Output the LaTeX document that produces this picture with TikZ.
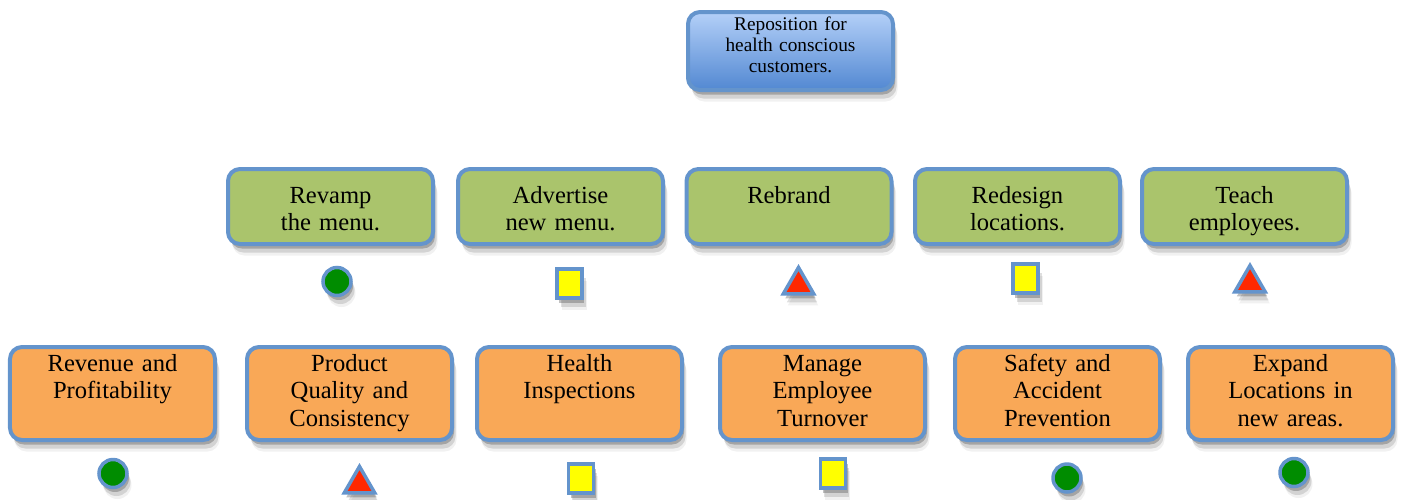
\documentclass[tikz,border=0pt]{standalone}
\usepackage{fontspec}
\setmainfont{Liberation Serif}
\usepackage{xcolor}
\definecolor{edgeblue}{RGB}{100,148,204}
\definecolor{topblue}{RGB}{180,208,248}
\definecolor{lowblue}{RGB}{82,136,210}
\definecolor{leafgreen}{RGB}{170,196,108}
\definecolor{boxorange}{RGB}{249,168,87}
\definecolor{dotgreen}{RGB}{0,140,0}
\definecolor{markyellow}{RGB}{255,255,0}
\definecolor{markred}{RGB}{255,40,0}
\usetikzlibrary{shapes.geometric, shadows}

\begin{document}
\begin{tikzpicture}[
	soft/.style={drop shadow={shadow xshift=0.04cm, shadow yshift=-0.09cm, opacity=0.35, fill=black!70},
	             drop shadow={shadow xshift=0.07cm, shadow yshift=-0.17cm, opacity=0.18, fill=black!70},
	             drop shadow={shadow xshift=0.09cm, shadow yshift=-0.23cm, opacity=0.08, fill=black!70}},
	goal/.style={rectangle, draw=edgeblue, line width=0.08cm, rounded corners=0.24cm, soft,
	             top color=topblue, bottom color=lowblue, align=center, text width=3.9cm,
	             inner xsep=0.1cm, inner ysep=0.1cm, text height=0.26cm, text depth=1.1cm,
	             font=\fontsize{11}{12.2}\selectfont},
	act/.style={rectangle, draw=edgeblue, line width=0.08cm, rounded corners=0.24cm, soft,
	            fill=leafgreen, align=center, text width=3.9cm,
	            inner xsep=0.1cm, inner ysep=0.1cm, text height=0.58cm, text depth=0.72cm,
	            font=\fontsize{14}{15.9}\selectfont},
	area/.style={rectangle, draw=edgeblue, line width=0.08cm, rounded corners=0.24cm, soft,
	             fill=boxorange, align=center, text width=3.9cm,
	             inner xsep=0.1cm, inner ysep=0.1cm, text height=0.38cm, text depth=1.28cm,
	             font=\fontsize{14}{15.9}\selectfont},
	dot/.style={circle, draw=edgeblue, line width=0.07cm, fill=dotgreen, minimum size=0.56cm, inner sep=0pt, soft},
	sq/.style={rectangle, draw=edgeblue, line width=0.07cm, fill=markyellow, minimum width=0.5cm,
	           minimum height=0.58cm, inner sep=0pt, soft},
	tri/.style={regular polygon, regular polygon sides=3, draw=edgeblue, line width=0.07cm, fill=markred,
	            minimum size=0.7cm, inner sep=0pt, soft}
	]
\useasboundingbox (0,0) rectangle (28.02,-9.98);

\node[goal] (top) at (15.81,-1.02) {Reposition for\\ health conscious\\ customers.};

\node[act] (a1) at (6.61,-4.13)  {Revamp\\ the menu.};
\node[act] (a2) at (11.21,-4.13) {Advertise\\ new menu.};
\node[act] (a3) at (15.78,-4.13) {Rebrand};
\node[act] (a4) at (20.35,-4.13) {Redesign\\ locations.};
\node[act] (a5) at (24.89,-4.13) {Teach\\ employees.};

\node[dot] (m1) at (6.74,-5.63)  {};
\node[sq]  (m2) at (11.39,-5.67) {};
\node[tri] (m3) at (15.97,-5.70) {};
\node[sq]  (m4) at (20.51,-5.57) {};
\node[tri] (m5) at (25.00,-5.66) {};

\node[area] (b1) at (2.25,-7.87)  {Revenue and\\ Profitability};
\node[area] (b2) at (6.99,-7.87)  {Product\\ Quality and\\ Consistency};
\node[area] (b3) at (11.59,-7.87) {Health\\ Inspections};
\node[area] (b4) at (16.45,-7.87) {Manage\\ Employee\\ Turnover};
\node[area] (b5) at (21.15,-7.87) {Safety and\\ Accident\\ Prevention};
\node[area] (b6) at (25.81,-7.87) {Expand\\ Locations in\\ new areas.};

\node[dot] (n1) at (2.26,-9.47)  {};
\node[tri] (n2) at (7.19,-9.68)  {};
\node[sq]  (n3) at (11.62,-9.57) {};
\node[sq]  (n4) at (16.66,-9.47) {};
\node[dot] (n5) at (21.34,-9.56) {};
\node[dot] (n6) at (25.88,-9.45) {};
\end{tikzpicture}
\end{document}
